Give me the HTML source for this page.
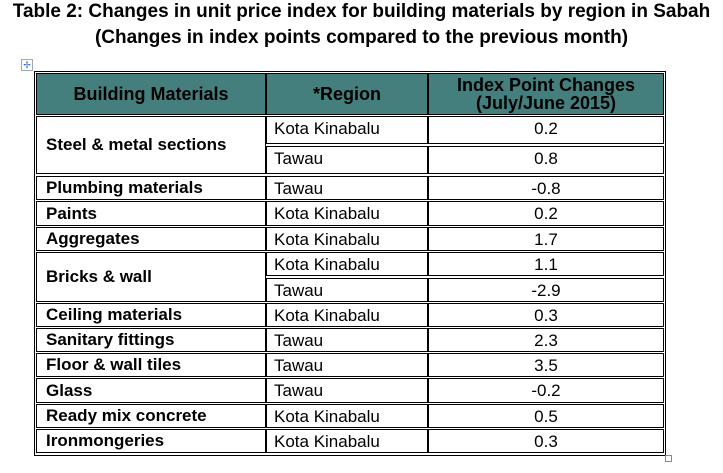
<html><head><style>
body{margin:0;width:723px;height:473px;background:#fff;position:relative;overflow:hidden;font-family:"Liberation Sans",Arial,sans-serif}
.t{position:absolute;left:0;width:723px;text-align:center;font-weight:bold;font-size:19px;color:#000;white-space:nowrap}
.c{position:absolute;box-sizing:border-box;border:1px solid #000;font-size:17px;display:flex;align-items:center;color:#000;white-space:nowrap}
.h{background:#457f7d;font-weight:bold;font-size:18px;justify-content:center;text-align:center;line-height:18px}
.a{font-weight:bold;padding-left:9px}
.b{padding-left:7px;align-items:flex-start;padding-top:2px}
.d{justify-content:center;align-items:flex-start;padding-top:2px}
</style></head><body>
<div class="t" style="top:1px">Table 2: Changes in unit price index for building materials by region in Sabah</div>
<div class="t" style="top:27px">(Changes in index points compared to the previous month)</div>
<div style="position:absolute;left:21px;top:59px;width:10px;height:10px;border:1px solid #9ab;font-size:9px;line-height:10px;text-align:center;color:#36c">✢</div>
<div style="position:absolute;left:34px;top:71px;width:630px;height:383px;border:1px solid #000"></div>
<div style="position:absolute;left:665px;top:455px;width:5px;height:5px;border:1px solid #888"></div>
<div id="g"></div>
<script>
var rows=[
["Steel &amp; metal sections",[["Kota Kinabalu","0.2"],["Tawau","0.8"]],116,174],
["Plumbing materials",[["Tawau","-0.8"]],176,200],
["Paints",[["Kota Kinabalu","0.2"]],201,226],
["Aggregates",[["Kota Kinabalu","1.7"]],227,251],
["Bricks &amp; wall",[["Kota Kinabalu","1.1"],["Tawau","-2.9"]],252,302],
["Ceiling materials",[["Kota Kinabalu","0.3"]],303,327],
["Sanitary fittings",[["Tawau","2.3"]],328,352],
["Floor &amp; wall tiles",[["Tawau","3.5"]],353,377],
["Glass",[["Tawau","-0.2"]],378,403],
["Ready mix concrete",[["Kota Kinabalu","0.5"]],404,428],
["Ironmongeries",[["Kota Kinabalu","0.3"]],429,453]];
var h='';
function c(cls,x,y,w,hh,t){h+='<div class="c '+cls+'" style="left:'+x+'px;top:'+y+'px;width:'+w+'px;height:'+hh+'px">'+t+'</div>';}
c('h',36,73,230,42,'Building Materials');c('h',266,73,162,42,'*Region');c('h',428,73,236,42,'Index Point Changes<br>(July/June 2015)');
rows.forEach(function(r){var y0=r[2],y1=r[3];c('a',36,y0,230,y1-y0,r[0]);
var n=r[1].length,hh=(y1-y0-(n-1)*2)/n;
r[1].forEach(function(s,i){var y=y0+i*(hh+2);c('b',266,y,162,hh,s[0]);c('d',428,y,236,hh,s[1]);});});
document.getElementById('g').innerHTML=h;
</script>
</body></html>
